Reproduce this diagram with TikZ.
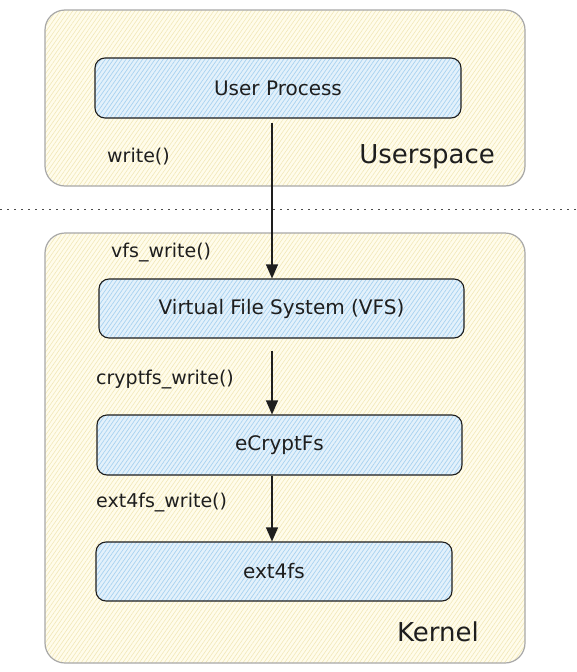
\documentclass[tikz,border=0pt]{standalone}
\usepackage{fontspec}
\setmainfont{DejaVu Sans}
\usetikzlibrary{arrows.meta,patterns.meta}
\definecolor{inkc}{HTML}{1E1E1E}
\definecolor{spacebg}{HTML}{FFFCEB}
\definecolor{spacehatch}{HTML}{F2E8B8}
\definecolor{spaceline}{HTML}{A8A8A8}
\definecolor{layerbg}{HTML}{E3F1FB}
\definecolor{layerhatch}{HTML}{A8D2F0}

\begin{document}
\begin{tikzpicture}[%
x=1pt, y=-1pt,
space/.style={draw=spaceline, line width=1.2pt, rounded corners=20pt,
  preaction={fill=spacebg},
  pattern={Lines[angle=55,distance=3.4pt,line width=0.6pt]}, pattern color=spacehatch},
layer/.style={draw=inkc, line width=1.1pt, rounded corners=10pt,
  preaction={fill=layerbg},
  pattern={Lines[angle=55,distance=3.4pt,line width=0.7pt]}, pattern color=layerhatch,
  text=inkc, font=\fontsize{20}{24}\selectfont, inner sep=0pt},
call/.style={text=inkc, font=\fontsize{19}{22}\selectfont, inner sep=0pt, anchor=west},
realm/.style={text=inkc, font=\fontsize{26}{30}\selectfont, inner sep=0pt, anchor=east},
flow/.style={draw=inkc, line width=1.1pt, -{Triangle[length=14pt,width=12pt]}},
]
\useasboundingbox (0,0) rectangle (577,672);
%% containers;
\node [space, minimum width=480pt, minimum height=176pt] (userspace) at (285,98) {};
\node [space, minimum width=480pt, minimum height=430pt] (kernelspace) at (285,448) {};
%% boundary;
\draw [color=inkc!80, line width=1pt, dash pattern=on 1.5pt off 5.5pt] (0,209) -- (577,209);
%% layers;
\node [layer, minimum width=366pt, minimum height=60pt] (user) at (278,88) {User Process};
\node [layer, minimum width=365pt, minimum height=59pt] (vfs) at (281.5,308.5) {Virtual File System (VFS)};
\node [layer, minimum width=365pt, minimum height=60pt] (ecrypt) at (279.5,445) {eCryptFs};
\node [layer, minimum width=356pt, minimum height=59pt] (ext4) at (274,571.5) {ext4fs};
%% labels;
\node [call] (lwrite) at (107,157) {write()};
\node [call] (lvfs) at (111,253) {vfs\_write()};
\node [call] (lcrypt) at (96,380) {cryptfs\_write()};
\node [call] (lext) at (96,503) {ext4fs\_write()};
\node [realm] (luser) at (495,157) {Userspace};
\node [realm] (lkernel) at (479,632) {Kernel};
%% calls;
\coordinate (axis) at (272,0);
\draw [flow, shorten <=5pt] (user.south -| axis) -- (vfs.north -| axis);
\draw [flow, shorten <=12pt] (vfs.south -| axis) -- (ecrypt.north -| axis);
\draw [flow] (ecrypt.south -| axis) -- (ext4.north -| axis);
\end{tikzpicture}
\end{document}
